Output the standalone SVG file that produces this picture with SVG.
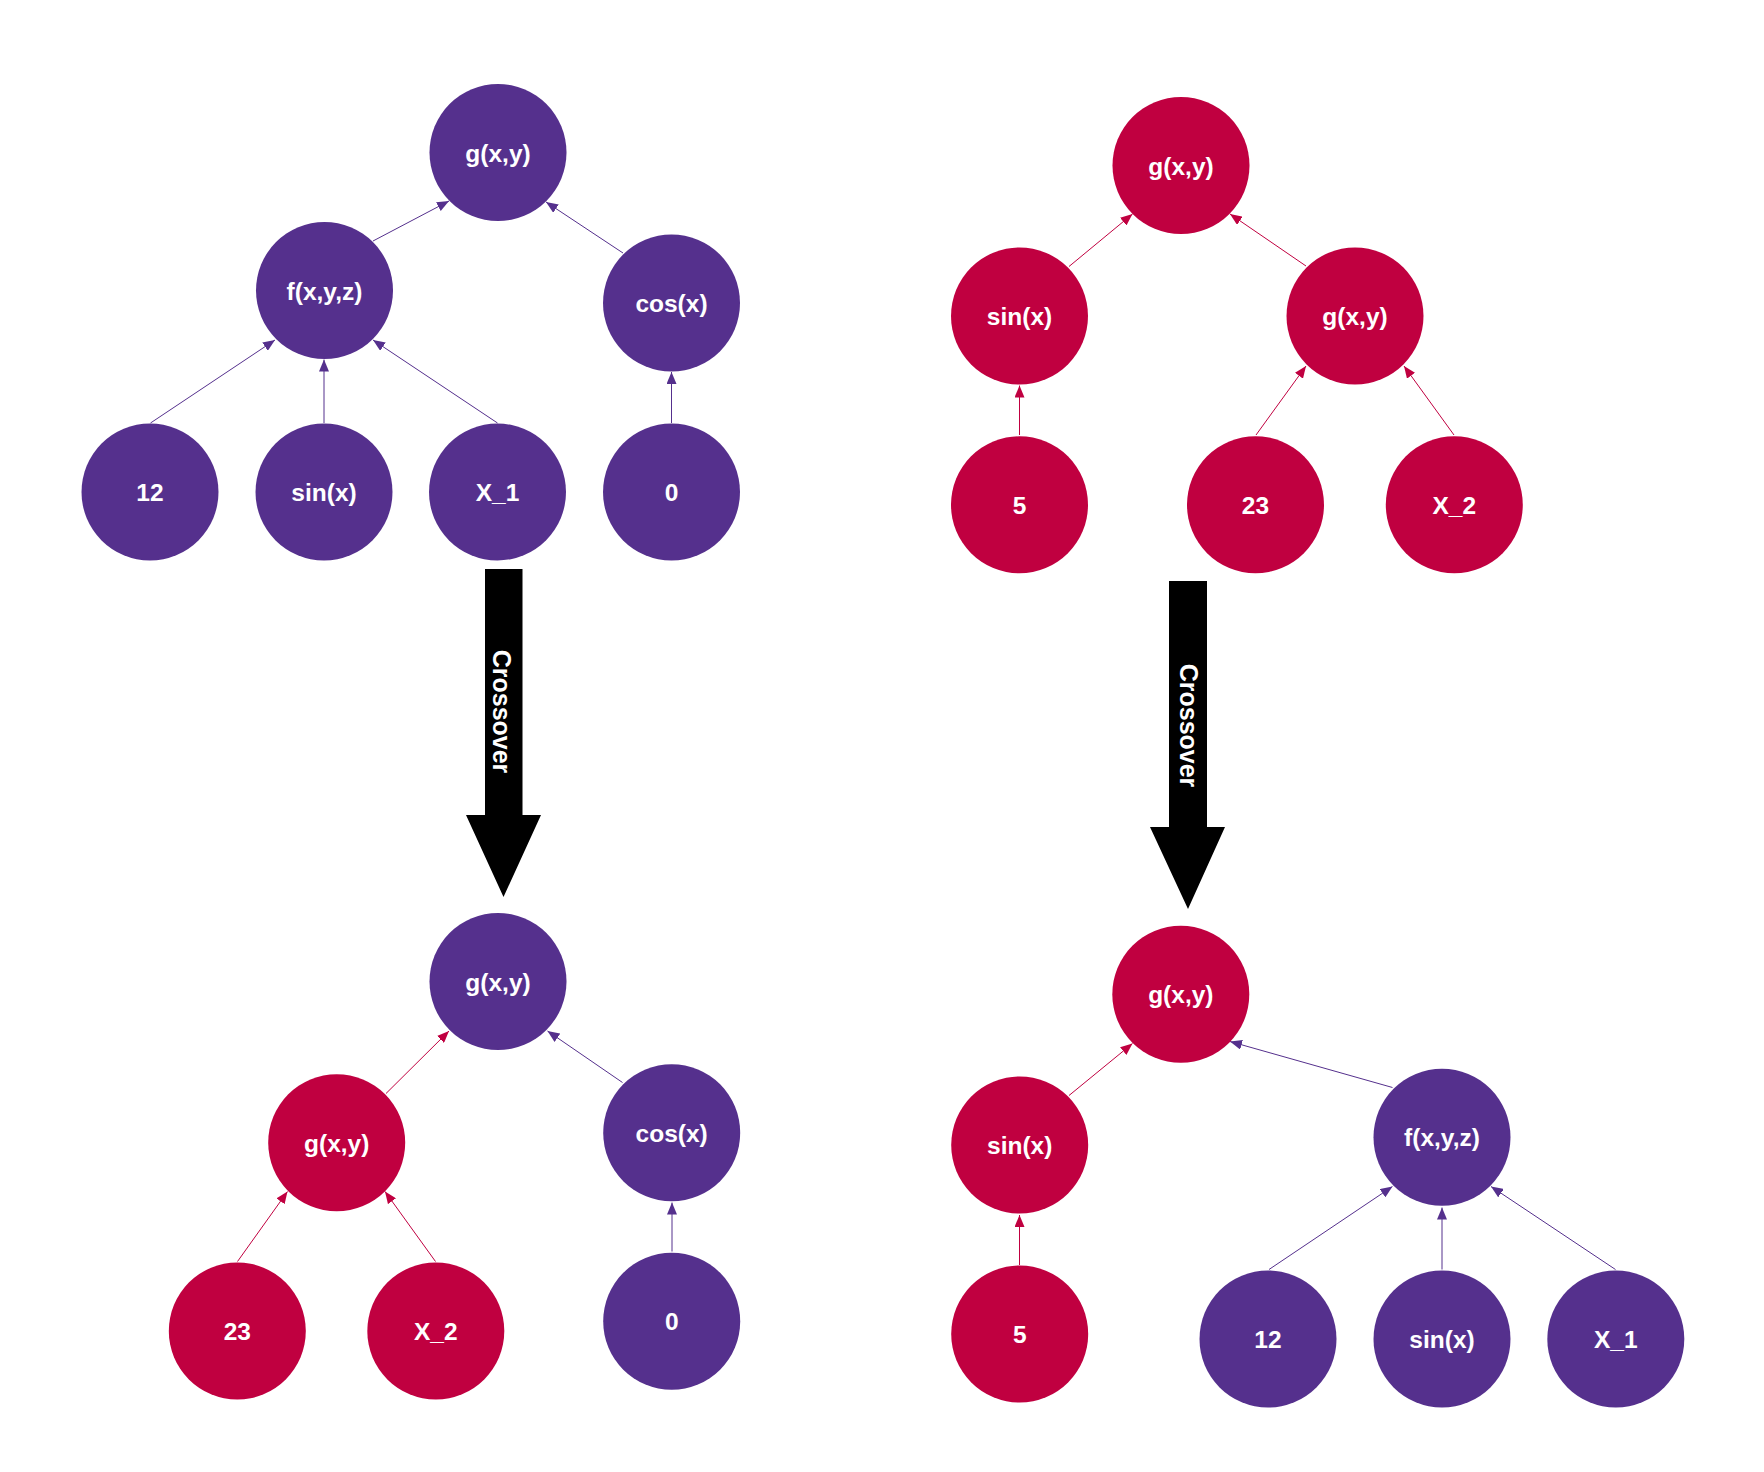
<svg xmlns="http://www.w3.org/2000/svg" width="1764" height="1472" viewBox="0 0 1764 1472">
<style>
.p{fill:#55308d}
.r{fill:#c00040}
.t{font-family:"Liberation Sans",Arial,sans-serif;font-weight:bold;font-size:24.5px;fill:#fff;text-anchor:middle}
.lp{stroke:#55308d;stroke-width:1;fill:none;marker-end:url(#ap)}
.lr{stroke:#c00040;stroke-width:1;fill:none;marker-end:url(#ar)}
.big{fill:#000}
.ct{font-family:"Liberation Sans",Arial,sans-serif;font-weight:bold;font-size:25px;fill:#fff;text-anchor:middle;dominant-baseline:central}
</style>
<defs>
<marker id="ap" markerUnits="userSpaceOnUse" viewBox="0 0 12 10" markerWidth="12" markerHeight="10" refX="12" refY="5" orient="auto"><path d="M0,0L12,5L0,10z" fill="#55308d"/></marker>
<marker id="ar" markerUnits="userSpaceOnUse" viewBox="0 0 12 10" markerWidth="12" markerHeight="10" refX="12" refY="5" orient="auto"><path d="M0,0L12,5L0,10z" fill="#c00040"/></marker>
</defs>
<rect width="1764" height="1472" fill="#fff"/>
<g id="connectors">
<line class="lp" x1="373" y1="241" x2="449" y2="201"/>
<line class="lp" x1="623" y1="253" x2="546" y2="202"/>
<line class="lp" x1="150.5" y1="423" x2="275" y2="340"/>
<line class="lp" x1="324" y1="423" x2="324" y2="359.5"/>
<line class="lp" x1="497.5" y1="423" x2="373" y2="340"/>
<line class="lp" x1="671.5" y1="423" x2="671.5" y2="372"/>
<line class="lr" x1="1069" y1="266.5" x2="1132.5" y2="214"/>
<line class="lr" x1="1306" y1="266" x2="1230" y2="214"/>
<line class="lr" x1="1019.5" y1="435" x2="1019.5" y2="385.5"/>
<line class="lr" x1="1256" y1="435" x2="1306" y2="366"/>
<line class="lr" x1="1454" y1="435" x2="1404" y2="366"/>
<line class="lr" x1="386" y1="1093.5" x2="449" y2="1031"/>
<line class="lp" x1="622.5" y1="1082.5" x2="547.5" y2="1031"/>
<line class="lr" x1="237.5" y1="1261.5" x2="287.5" y2="1191.5"/>
<line class="lr" x1="435.5" y1="1261.5" x2="385" y2="1191.5"/>
<line class="lp" x1="672" y1="1251.5" x2="672" y2="1202.5"/>
<line class="lr" x1="1069" y1="1095.5" x2="1132.5" y2="1043.5"/>
<line class="lp" x1="1392.5" y1="1087.5" x2="1230" y2="1041.5"/>
<line class="lr" x1="1019.5" y1="1265" x2="1019.5" y2="1215"/>
<line class="lp" x1="1269" y1="1269.5" x2="1392.5" y2="1186.5"/>
<line class="lp" x1="1442" y1="1269.5" x2="1442" y2="1207.5"/>
<line class="lp" x1="1615.5" y1="1269.5" x2="1491" y2="1186.5"/>
</g>
<g id="arrow-left"><polygon class="big" points="485,569 522.5,569 522.5,815 541,815 503.5,897 466,815 485,815"/><text class="ct" transform="translate(502,711.5) rotate(90)">Crossover</text></g>
<g id="arrow-right"><polygon class="big" points="1169,581 1207,581 1207,827 1225,827 1188,909 1150,827 1169,827"/><text class="ct" transform="translate(1188.5,725.5) rotate(90)">Crossover</text></g>
<g id="tl-g"><circle class="p" cx="498" cy="152.5" r="68.5"/><text class="t" x="498" y="161.5">g(x,y)</text></g>
<g id="tl-f"><circle class="p" cx="324.5" cy="290.5" r="68.5"/><text class="t" x="324.5" y="299.5">f(x,y,z)</text></g>
<g id="tl-cos"><circle class="p" cx="671.5" cy="303" r="68.5"/><text class="t" x="671.5" y="312">cos(x)</text></g>
<g id="tl-12"><circle class="p" cx="150" cy="492" r="68.5"/><text class="t" x="150" y="501">12</text></g>
<g id="tl-sin"><circle class="p" cx="324" cy="492" r="68.5"/><text class="t" x="324" y="501">sin(x)</text></g>
<g id="tl-x1"><circle class="p" cx="497.5" cy="492" r="68.5"/><text class="t" x="497.5" y="501">X_1</text></g>
<g id="tl-0"><circle class="p" cx="671.5" cy="492" r="68.5"/><text class="t" x="671.5" y="501">0</text></g>
<g id="tr-g"><circle class="r" cx="1181" cy="165.5" r="68.5"/><text class="t" x="1181" y="174.5">g(x,y)</text></g>
<g id="tr-sin"><circle class="r" cx="1019.5" cy="316" r="68.5"/><text class="t" x="1019.5" y="325">sin(x)</text></g>
<g id="tr-g2"><circle class="r" cx="1355" cy="316" r="68.5"/><text class="t" x="1355" y="325">g(x,y)</text></g>
<g id="tr-5"><circle class="r" cx="1019.5" cy="504.8" r="68.5"/><text class="t" x="1019.5" y="513.8">5</text></g>
<g id="tr-23"><circle class="r" cx="1255.5" cy="504.8" r="68.5"/><text class="t" x="1255.5" y="513.8">23</text></g>
<g id="tr-x2"><circle class="r" cx="1454.3" cy="504.8" r="68.5"/><text class="t" x="1454.3" y="513.8">X_2</text></g>
<g id="bl-g"><circle class="p" cx="498" cy="981.5" r="68.5"/><text class="t" x="498" y="990.5">g(x,y)</text></g>
<g id="bl-g2"><circle class="r" cx="336.7" cy="1142.7" r="68.5"/><text class="t" x="336.7" y="1151.7">g(x,y)</text></g>
<g id="bl-cos"><circle class="p" cx="671.7" cy="1132.8" r="68.5"/><text class="t" x="671.7" y="1141.8">cos(x)</text></g>
<g id="bl-23"><circle class="r" cx="237.3" cy="1331" r="68.5"/><text class="t" x="237.3" y="1340">23</text></g>
<g id="bl-x2"><circle class="r" cx="435.8" cy="1331" r="68.5"/><text class="t" x="435.8" y="1340">X_2</text></g>
<g id="bl-0"><circle class="p" cx="671.7" cy="1321.3" r="68.5"/><text class="t" x="671.7" y="1330.3">0</text></g>
<g id="br-g"><circle class="r" cx="1180.8" cy="994.2" r="68.5"/><text class="t" x="1180.8" y="1003.2">g(x,y)</text></g>
<g id="br-sin"><circle class="r" cx="1019.7" cy="1145" r="68.5"/><text class="t" x="1019.7" y="1154">sin(x)</text></g>
<g id="br-f"><circle class="p" cx="1442" cy="1137.3" r="68.5"/><text class="t" x="1442" y="1146.3">f(x,y,z)</text></g>
<g id="br-5"><circle class="r" cx="1019.7" cy="1334" r="68.5"/><text class="t" x="1019.7" y="1343">5</text></g>
<g id="br-12"><circle class="p" cx="1268" cy="1339" r="68.5"/><text class="t" x="1268" y="1348">12</text></g>
<g id="br-sin2"><circle class="p" cx="1442" cy="1339" r="68.5"/><text class="t" x="1442" y="1348">sin(x)</text></g>
<g id="br-x1"><circle class="p" cx="1615.8" cy="1339" r="68.5"/><text class="t" x="1615.8" y="1348">X_1</text></g>
</svg>
